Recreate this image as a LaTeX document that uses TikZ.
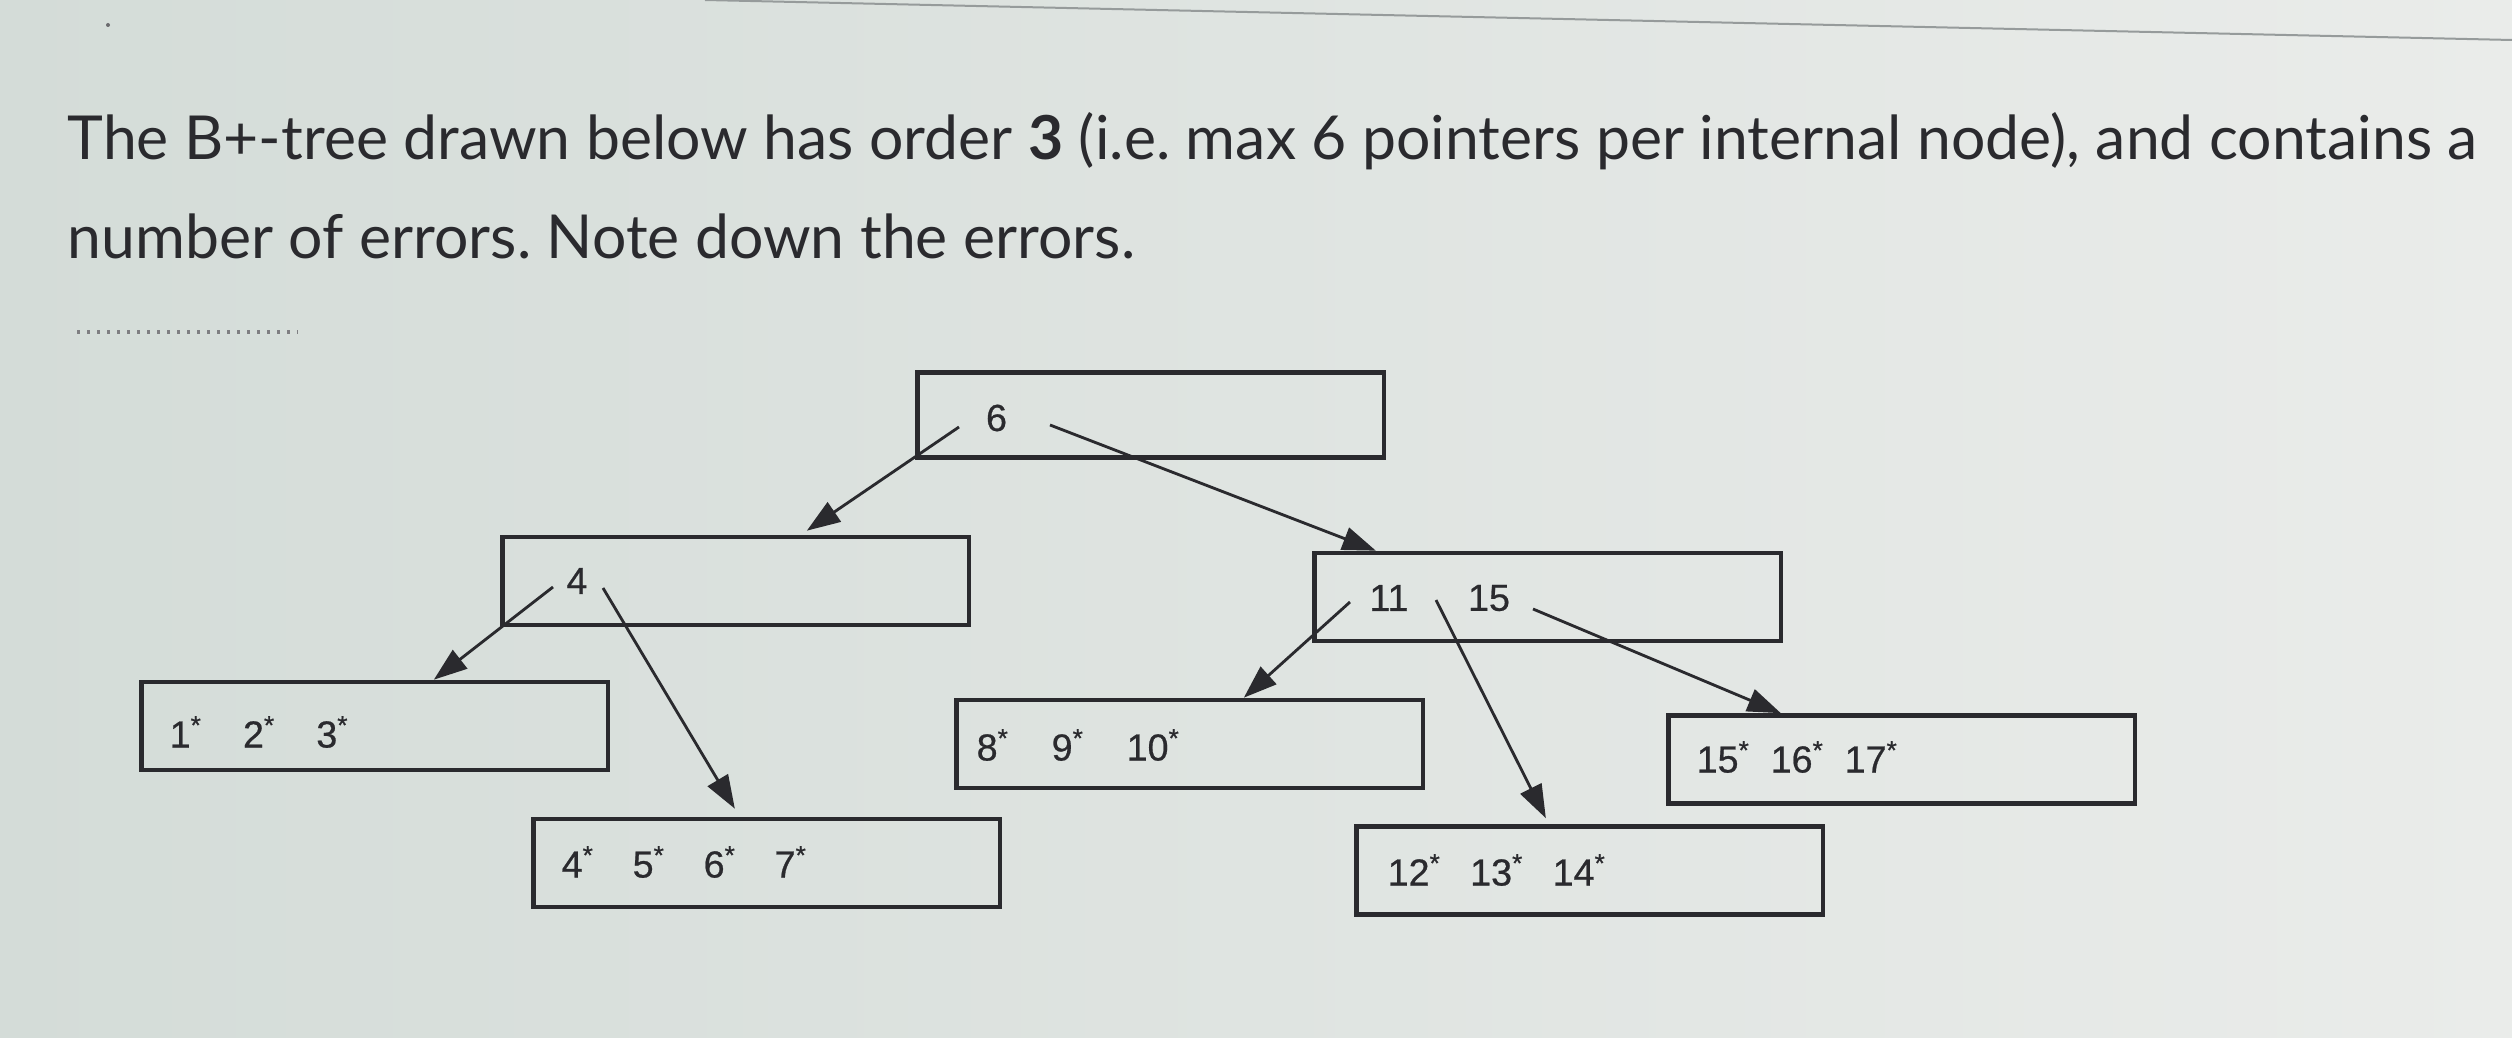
\documentclass[tikz,border=0pt]{standalone}
\usepackage{fontspec}
\setmainfont{Liberation Sans}
\newfontfamily\latofont{Lato}
\newfontfamily\keyfont[FakeBold=0.6]{Liberation Sans}
\usetikzlibrary{arrows.meta,calc}
\definecolor{bgL}{RGB}{212,220,216}
\definecolor{bgR}{RGB}{234,236,234}
\definecolor{ink}{RGB}{42,42,46}
\definecolor{edge}{RGB}{150,155,155}
\newcommand\kst[2]{\makebox[#1][l]{#2\textsuperscript{*}}}
\frenchspacing
\begin{document}
\begin{tikzpicture}[x=0.3pt,y=-0.3pt,
  box/.style={draw=ink,line width=1.4pt,minimum width=140pt,minimum height=26.4pt,inner sep=0pt},
  ptr/.style={draw=ink,line width=0.85pt,-{Triangle[length=10pt,width=7pt]}},
  key/.style={text=ink,font=\keyfont\fontsize{11.3}{13}\selectfont,inner sep=0pt},
  title/.style={text=ink,font=\latofont\fontsize{18.2}{22}\selectfont,inner sep=0pt,anchor=base west}]
\fill[left color=bgL,right color=bgR] (0,0) rectangle (2512,1037);
\useasboundingbox (0,0) rectangle (2512,1037);
\draw[edge,line width=0.6pt] (705,0) -- (2512,40);
\fill[ink!70] (108,25) circle (2);
% question
\node[title] (q1) at (67,160) {The B+-tree drawn below has order \textbf{3} (i.e. max 6 pointers per internal node), and contains a};
\node[title] (q2) at (67,258) {number of errors. Note down the errors.};
\draw[ink!60,dotted,line width=1pt] (77,332) -- (298,332);
% boxes
\node[box,minimum height=25.5pt] (root) at (1150.5,415) {};
\node[box] (n4) at (735.5,581) {};
\node[box] (n11) at (1547.5,597) {};
\node[box] (l1) at (374.5,726) {};
\node[box] (l4) at (766.5,863) {};
\node[box] (l8) at (1189.5,744) {};
\node[box] (l12) at (1589.5,870.5) {};
\node[box] (l15) at (1901.5,759.5) {};
% keys
\node[key] (k6) at (996.5,418) {6};
\node[key] (k4) at (577,581) {4};
\node[key] (k11) at (1389,598) {11};
\node[key] (k15) at (1489,598) {15};
\node[key,anchor=west] (t1) at (169,732) {\kst{22pt}{1}\kst{22pt}{2}\kst{22pt}{3}};
\node[key,anchor=west] (t4) at (561,862) {\kst{21.3pt}{4}\kst{21.3pt}{5}\kst{21.3pt}{6}\kst{21.3pt}{7}};
\node[key,anchor=west] (t8) at (976,745) {\kst{22.5pt}{8}\kst{22.5pt}{9}\kst{22.5pt}{10}};
\node[key,anchor=west] (t12) at (1387,870) {\kst{24.75pt}{12}\kst{24.75pt}{13}\kst{24.75pt}{14}};
\node[key,anchor=west] (t15) at (1696,757) {\kst{22.2pt}{15}\kst{22.2pt}{16}\kst{22.2pt}{17}};
% pointer origins
\coordinate (p1) at (959,427);
\coordinate (p2) at (1050,425);
\coordinate (p3) at (553,587);
\coordinate (p4) at (603,588);
\coordinate (p5) at (1350,602);
\coordinate (p6) at (1436,600);
\coordinate (p7) at (1533,609);
% pointers
\draw[ptr] (p1) -- ($(n4.north west)+(307,-4)$);
\draw[ptr] (p2) -- ($(n11.north west)+(64,0)$);
\draw[ptr] (p3) -- ($(l1.north west)+(295,0)$);
\draw[ptr] (p4) -- ($(l4.north west)+(204,-8)$);
\draw[ptr] (p5) -- ($(l8.north west)+(290,0)$);
\draw[ptr] (p6) -- ($(l12.north west)+(192,-6)$);
\draw[ptr] (p7) -- ($(l15.north west)+(115,0)$);
\end{tikzpicture}
\end{document}
